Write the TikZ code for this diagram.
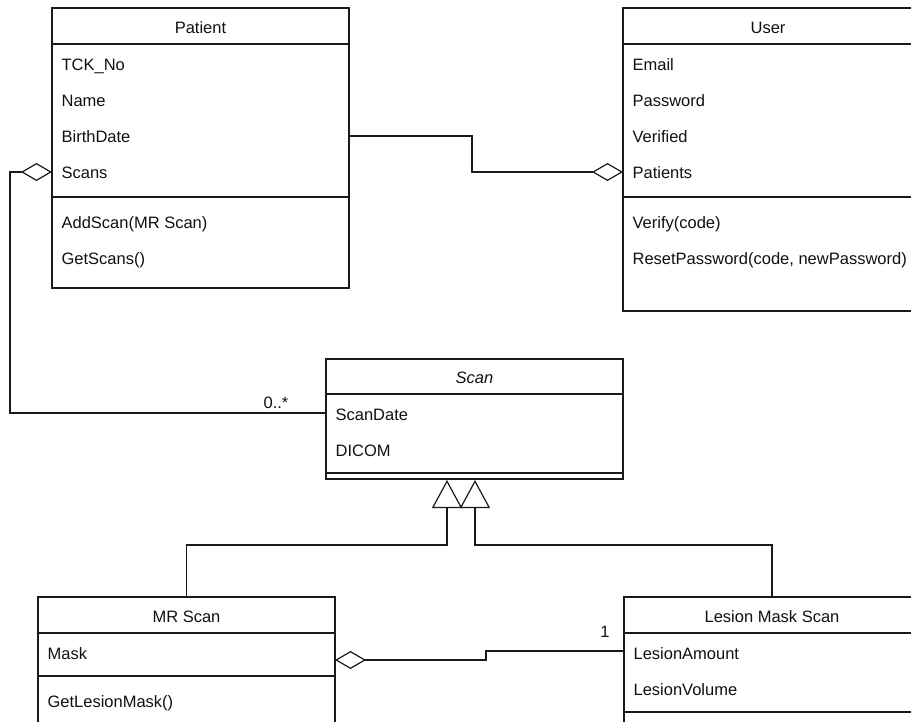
\documentclass[tikz,border=0pt]{standalone}
\usepackage{fontspec}
\setmainfont{Liberation Sans}
\usetikzlibrary{arrows.meta}
\definecolor{linec}{HTML}{1A1A1A}
\definecolor{txtc}{HTML}{111111}
\begin{document}
\begin{tikzpicture}[x=1pt,y=-1pt,line width=1.2pt,
  every node/.style={font=\fontsize{16.5}{19}\selectfont, text=txtc},
  cls/.style={draw=linec, fill=white, inner sep=0pt, outer sep=0pt, anchor=north west},
  txt/.style={anchor=base west, inner sep=0pt},
  hdr/.style={anchor=base, inner sep=0pt},
  sep/.style={draw=linec},
  conn/.style={draw=linec},
  agg/.style={conn,{Diamond[open,length=31pt,width=18pt]}-},
  gen/.style={conn,-{Triangle[open,length=28pt,width=30pt]}}]
\useasboundingbox (0,0) rectangle (911,721);
\fill[white] (0,0) rectangle (911,721);
\clip (0,0) rectangle (911,721);

% Patient
\node[cls, minimum width=297pt, minimum height=280pt] (patient) at (52,8) {};
\draw[sep] (52,44) -- (349,44);
\draw[sep] (52,197) -- (349,197);
\node[hdr] (ptitle) at (200.5,33) {Patient};
\node[txt] (ptck) at (61,70.7) {TCK\_No};
\node[txt] (pname) at (61,106.7) {Name};
\node[txt] (pbirth) at (61,142.7) {BirthDate};
\node[txt] (pscans) at (61,178.7) {Scans};
\node[txt] (padd) at (61,228) {AddScan(MR Scan)};
\node[txt] (pget) at (61,264) {GetScans()};

% User
\node[cls, minimum width=290pt, minimum height=303pt] (user) at (623,8) {};
\draw[sep] (623,44) -- (913,44);
\draw[sep] (623,197) -- (913,197);
\node[hdr] (utitle) at (768,33) {User};
\node[txt] (uemail) at (632,70.7) {Email};
\node[txt] (upass) at (632,106.7) {Password};
\node[txt] (uver) at (632,142.7) {Verified};
\node[txt] (upat) at (632,178.7) {Patients};
\node[txt] (uverify) at (632,228) {Verify(code)};
\node[txt] (ureset) at (632,264) {ResetPassword(code, newPassword)};

% Scan
\node[cls, minimum width=297pt, minimum height=120pt] (scan) at (326,359) {};
\draw[sep] (326,394) -- (623,394);
\draw[sep] (326,473) -- (623,473);
\node[hdr] (stitle) at (474.5,383) {\itshape Scan};
\node[txt] (sdate) at (335,420.7) {ScanDate};
\node[txt] (sdicom) at (335,456.7) {DICOM};

% MR Scan
\node[cls, minimum width=297pt, minimum height=200pt] (mr) at (38,597) {};
\draw[sep] (38,633) -- (335,633);
\draw[sep] (38,676) -- (335,676);
\node[hdr] (mtitle) at (186.5,622) {MR Scan};
\node[txt] (mmask) at (47,659.7) {Mask};
\node[txt] (mget) at (47,707) {GetLesionMask()};

% Lesion Mask Scan
\node[cls, minimum width=296pt, minimum height=200pt] (lesion) at (624,597) {};
\draw[sep] (624,633) -- (920,633);
\draw[sep] (624,712) -- (920,712);
\node[hdr] (ltitle) at (772,622) {Lesion Mask Scan};
\node[txt] (lamount) at (633,659.7) {LesionAmount};
\node[txt] (lvolume) at (633,695.7) {LesionVolume};

% ports
\coordinate (pScansPort) at (52,172);
\coordinate (pBirthPort) at (349,136);
\coordinate (uPatPort) at (623,172);
\coordinate (sDatePort) at (326,413);
\coordinate (mMaskPort) at (335,660);
\coordinate (lAmountPort) at (624,651);
\coordinate (sGen1) at (447,480);
\coordinate (sGen2) at (475,480);

% connectors
\draw[agg] (pScansPort) -- (10,172) -- (10,413) -- (sDatePort);
\node[anchor=base, inner sep=0pt] (mult0) at (276,408) {0..*};
\draw[agg] (uPatPort) -- (472,172) -- (472,136) -- (pBirthPort);
\draw[gen] (mr.north) -- (186.5,545) -- (447,545) -- (sGen1);
\draw[gen] (lesion.north) -- (772,545) -- (475,545) -- (sGen2);
\draw[agg] (mMaskPort) -- (486,660) -- (486,651) -- (lAmountPort);
\node[anchor=base, inner sep=0pt] (mult1) at (605,637) {1};
\end{tikzpicture}
\end{document}
